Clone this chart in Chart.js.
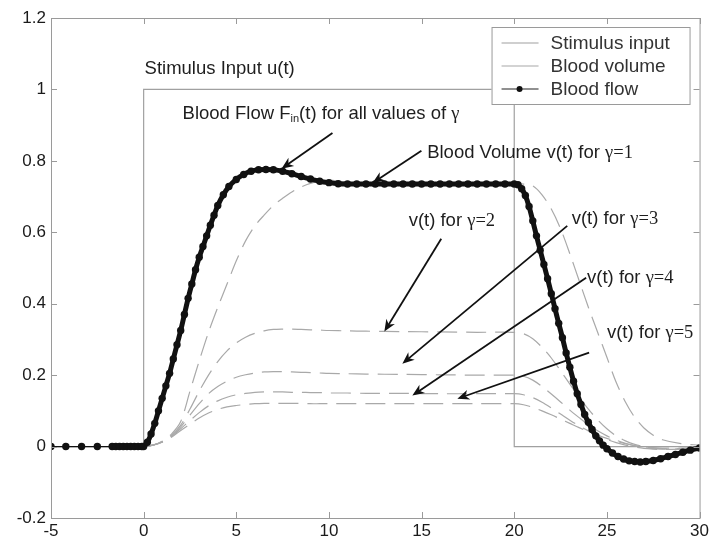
<!DOCTYPE html>
<html>
<head>
<meta charset="utf-8">
<script src="https://cdn.jsdelivr.net/npm/chart.js@4.4.0/dist/chart.umd.min.js"></script>
<style>
  html, body { margin: 0; padding: 0; background: #fff; }
  #wrap { width: 712px; height: 543px; }
</style>
</head>
<body>
<div id="wrap"><canvas id="chart" width="712" height="543"></canvas></div>
<script>
// axis ticks
const xTicks = [-5, 0, 5, 10, 15, 20, 25, 30];
const yTicks = [-0.2, 0, 0.2, 0.4, 0.6, 0.8, 1, 1.2];
const legendLabels = ['Stimulus input', 'Blood volume', 'Blood flow'];

// stimulus u(t)
const stimT = [-5, 0, 0, 20, 20, 30];
const stimU = [0, 0, 1, 1, 0, 0];

// blood flow Fin(t)
const flowT = [
  -5, -4.2, -3.35, -2.5, -1.7, -1.5, -1.3, -1.1, -0.9, -0.7, -0.5, -0.3, -0.1, 0,
  0.2, 0.4, 0.6, 0.8, 1.0, 1.2, 1.4, 1.6, 1.8, 2.0, 2.2, 2.4, 2.6, 2.8, 3.0,
  3.2, 3.4, 3.6, 3.8, 4.0, 4.3, 4.6, 5.0, 5.4, 5.8, 6.2, 6.6, 7.0, 7.5, 8.0,
  8.5, 9.0, 9.5, 10.0, 10.5, 11.0, 11.5, 12, 12.5, 13, 13.5, 14, 14.5, 15,
  15.5, 16, 16.5, 17, 17.5, 18, 18.5, 19, 19.5, 20,
  20.2, 20.4, 20.6, 20.8, 21.0, 21.2, 21.4, 21.6, 21.8, 22.0, 22.2, 22.4,
  22.6, 22.8, 23.0, 23.2, 23.4, 23.6, 23.8, 24.0, 24.2, 24.4, 24.6, 24.8,
  25.0, 25.3, 25.6, 25.9, 26.2, 26.5, 26.8, 27.1, 27.5, 27.9, 28.3, 28.7,
  29.1, 29.5, 30.0
];
const flowY = [
  0, 0, 0, 0, 0, 0, 0, 0, 0, 0, 0, 0, 0, 0,
  0.012, 0.035, 0.065, 0.1, 0.135, 0.17, 0.205, 0.245, 0.285, 0.325, 0.37, 0.415, 0.455, 0.495, 0.53,
  0.56, 0.59, 0.62, 0.648, 0.675, 0.705, 0.728, 0.748, 0.762, 0.771, 0.775, 0.776, 0.775, 0.771, 0.764,
  0.756, 0.749, 0.743, 0.739, 0.736, 0.735, 0.735, 0.735, 0.735, 0.735, 0.735, 0.735, 0.735, 0.735,
  0.735, 0.735, 0.735, 0.735, 0.735, 0.735, 0.735, 0.735, 0.735, 0.735,
  0.733, 0.722, 0.703, 0.672, 0.632, 0.59, 0.55, 0.51, 0.47, 0.428, 0.386, 0.345,
  0.305, 0.262, 0.222, 0.183, 0.148, 0.118, 0.09, 0.068, 0.048, 0.03, 0.016, 0.004,
  -0.006, -0.018, -0.028, -0.035, -0.04, -0.042, -0.043, -0.042, -0.039, -0.034, -0.028, -0.022,
  -0.016, -0.01, -0.004
];

// blood volume v(t) for gamma = 1..5
const volT = [
  0, 0.5, 1, 1.5, 2, 2.5, 3, 3.5, 4, 4.5,
  5, 5.5, 6, 6.5, 7, 7.5, 8, 8.5, 9, 9.5,
  10, 11, 12, 14, 16, 18, 20,
  20.5, 21, 21.5, 22, 22.5, 23, 23.5, 24, 24.5, 25,
  25.5, 26, 26.5, 27, 27.5, 28, 29, 30
];
const vol1 = [
  0, 0.004, 0.015, 0.035, 0.07, 0.155, 0.24, 0.32, 0.39, 0.455,
  0.52, 0.576, 0.618, 0.648, 0.675, 0.695, 0.713, 0.727, 0.737, 0.743,
  0.746, 0.74, 0.736, 0.735, 0.735, 0.735, 0.735,
  0.735, 0.73, 0.705, 0.665, 0.61, 0.54, 0.465, 0.39, 0.32, 0.25,
  0.18, 0.125, 0.082, 0.052, 0.032, 0.019, 0.008, 0.004
];
const vol2 = [
  0, 0.004, 0.014, 0.032, 0.06, 0.105, 0.155, 0.2, 0.238, 0.268,
  0.29, 0.306, 0.317, 0.324, 0.328, 0.329, 0.329, 0.328, 0.327, 0.326,
  0.325, 0.324, 0.323, 0.322, 0.321, 0.32, 0.32,
  0.316, 0.302, 0.278, 0.248, 0.212, 0.175, 0.138, 0.105, 0.075, 0.05,
  0.03, 0.016, 0.006, 0.0, -0.003, -0.004, -0.004, -0.003
];
const vol3 = [
  0, 0.004, 0.013, 0.03, 0.055, 0.088, 0.12, 0.148, 0.168, 0.183,
  0.194, 0.201, 0.206, 0.209, 0.21, 0.21, 0.209, 0.208, 0.207, 0.206,
  0.205, 0.204, 0.203, 0.202, 0.201, 0.2, 0.2,
  0.197, 0.186, 0.168, 0.147, 0.125, 0.102, 0.081, 0.061, 0.044, 0.03,
  0.018, 0.009, 0.002, -0.003, -0.006, -0.007, -0.007, -0.005
];
const vol4 = [
  0, 0.004, 0.013, 0.028, 0.05, 0.073, 0.095, 0.114, 0.128, 0.138,
  0.145, 0.149, 0.152, 0.153, 0.153, 0.153, 0.152, 0.152, 0.151, 0.151,
  0.15, 0.15, 0.149, 0.149, 0.148, 0.148, 0.148,
  0.145, 0.137, 0.124, 0.108, 0.091, 0.074, 0.058, 0.044, 0.031, 0.02,
  0.011, 0.004, -0.001, -0.005, -0.007, -0.008, -0.007, -0.006
];
const vol5 = [
  0, 0.004, 0.012, 0.026, 0.045, 0.063, 0.08, 0.094, 0.104, 0.111,
  0.115, 0.118, 0.12, 0.121, 0.121, 0.121, 0.121, 0.121, 0.12, 0.12,
  0.12, 0.12, 0.12, 0.12, 0.12, 0.12, 0.12,
  0.117, 0.11, 0.1, 0.089, 0.077, 0.065, 0.053, 0.042, 0.032, 0.023,
  0.015, 0.008, 0.003, -0.001, -0.004, -0.006, -0.006, -0.005
];

const SANS = '"Liberation Sans", Arial, sans-serif';
const SERIF = '"Liberation Serif", "Times New Roman", serif';
const FRAME = '#9a9a9a';

// text labels placed in data units (left, baseline)
const notes = [
  { at: [0.05, 1.043], parts: [{ t: 'Stimulus Input u(t)' }] },
  { at: [2.1, 0.917], parts: [{ t: 'Blood Flow F' }, { t: 'in', size: 11, dy: 3 }, { t: '(t) for all values of ' }, { t: '\u03b3', serif: true }] },
  { at: [15.3, 0.808], parts: [{ t: 'Blood Volume v(t) for ' }, { t: '\u03b3=1', serif: true }] },
  { at: [14.3, 0.618], parts: [{ t: 'v(t) for ' }, { t: '\u03b3=2', serif: true }] },
  { at: [23.1, 0.624], parts: [{ t: 'v(t) for ' }, { t: '\u03b3=3', serif: true }] },
  { at: [23.93, 0.459], parts: [{ t: 'v(t) for ' }, { t: '\u03b3=4', serif: true }] },
  { at: [25.0, 0.305], parts: [{ t: 'v(t) for ' }, { t: '\u03b3=5', serif: true }] }
];
// arrows: [fromT, fromY, tipT, tipY]
const arrows = [
  [10.19, 0.878, 7.44, 0.778],
  [14.99, 0.828, 12.35, 0.738],
  [16.06, 0.582, 12.99, 0.322],
  [22.86, 0.618, 13.96, 0.232],
  [23.88, 0.473, 14.5, 0.143],
  [24.04, 0.263, 16.93, 0.134]
];

function pts(ts, ys) {
  return ts.map((t, i) => ({ x: t, y: ys[i] }));
}

function drawParts(ctx, parts, x, y) {
  let cx = x;
  parts.forEach(p => {
    ctx.font = (p.size || 18.5) + 'px ' + (p.serif ? SERIF : SANS);
    ctx.fillText(p.t, cx, y + (p.dy || 0));
    cx += ctx.measureText(p.t).width;
  });
}

function drawArrow(ctx, x1, y1, x2, y2) {
  const a = Math.atan2(y2 - y1, x2 - x1);
  const len = 12, half = 5;
  ctx.beginPath();
  ctx.moveTo(x1, y1);
  ctx.lineTo(x2 - Math.cos(a) * 6, y2 - Math.sin(a) * 6);
  ctx.stroke();
  ctx.save();
  ctx.translate(x2, y2);
  ctx.rotate(a);
  ctx.beginPath();
  ctx.moveTo(0, 0);
  ctx.lineTo(-len, -half);
  ctx.lineTo(-len * 0.7, 0);
  ctx.lineTo(-len, half);
  ctx.closePath();
  ctx.fill();
  ctx.restore();
}

const decorPlugin = {
  id: 'decor',
  afterDraw(chart) {
    const ctx = chart.ctx;
    const a = chart.chartArea;
    const sx = chart.scales.x, sy = chart.scales.y;
    ctx.save();

    // box and inward ticks
    ctx.strokeStyle = FRAME;
    ctx.lineWidth = 1;
    ctx.strokeRect(a.left + 0.5, a.top + 0.5, a.right - a.left, a.bottom - a.top);
    ctx.beginPath();
    xTicks.forEach(v => {
      const px = Math.round(sx.getPixelForValue(v)) + 0.5;
      ctx.moveTo(px, a.bottom); ctx.lineTo(px, a.bottom - 6);
      ctx.moveTo(px, a.top); ctx.lineTo(px, a.top + 6);
    });
    yTicks.forEach(v => {
      const py = Math.round(sy.getPixelForValue(v)) + 0.5;
      ctx.moveTo(a.left, py); ctx.lineTo(a.left + 6, py);
      ctx.moveTo(a.right, py); ctx.lineTo(a.right - 6, py);
    });
    ctx.stroke();

    // annotations
    ctx.fillStyle = '#1e1e1e';
    ctx.textBaseline = 'alphabetic';
    ctx.textAlign = 'left';
    notes.forEach(n => {
      drawParts(ctx, n.parts, sx.getPixelForValue(n.at[0]), sy.getPixelForValue(n.at[1]));
    });

    ctx.strokeStyle = '#111';
    ctx.fillStyle = '#111';
    ctx.lineWidth = 1.8;
    arrows.forEach(r => {
      drawArrow(ctx, sx.getPixelForValue(r[0]), sy.getPixelForValue(r[1]),
        sx.getPixelForValue(r[2]), sy.getPixelForValue(r[3]));
    });

    // legend box in the upper right corner
    const lx = a.right - 208, ly = a.top + 9, lw = 198, lh = 77;
    ctx.fillStyle = '#fff';
    ctx.fillRect(lx, ly, lw, lh);
    ctx.strokeStyle = FRAME;
    ctx.lineWidth = 1;
    ctx.strokeRect(lx + 0.5, ly + 0.5, lw, lh);
    const styles = [
      { c: '#a0a0a0', dot: false },
      { c: '#a8a8a8', dot: false },
      { c: '#222', dot: true }
    ];
    legendLabels.forEach((lab, i) => {
      const yy = ly + 16 + i * 23;
      ctx.strokeStyle = styles[i].c;
      ctx.lineWidth = 1.2;
      ctx.beginPath();
      ctx.moveTo(lx + 10, yy); ctx.lineTo(lx + 47, yy);
      ctx.stroke();
      if (styles[i].dot) {
        ctx.fillStyle = '#111';
        ctx.beginPath();
        ctx.arc(lx + 28, yy, 3, 0, Math.PI * 2);
        ctx.fill();
      }
      ctx.fillStyle = '#333';
      ctx.font = '19px ' + SANS;
      ctx.fillText(lab, lx + 59, yy + 6);
    });
    ctx.restore();
  }
};

const volColor = '#a9a9a9';
const volStyle = {
  borderColor: volColor, borderWidth: 1.2, borderDash: [20, 9],
  pointRadius: 0, tension: 0.3, fill: false
};

new Chart(document.getElementById('chart'), {
  type: 'line',
  data: {
    datasets: [
      {
        label: 'Blood flow', data: pts(flowT, flowY), order: 0,
        borderColor: '#111', borderWidth: 5, pointRadius: 3.7, pointHoverRadius: 3.7,
        pointBackgroundColor: '#111', pointBorderWidth: 0, tension: 0.2,
        segment: { borderWidth: c => (c.p0.parsed.x < -1.8 ? 1.2 : 5) }
      },
      { label: 'v1', data: pts(volT, vol1), order: 1, ...volStyle },
      { label: 'v2', data: pts(volT, vol2), order: 2, ...volStyle },
      { label: 'v3', data: pts(volT, vol3), order: 3, ...volStyle },
      { label: 'v4', data: pts(volT, vol4), order: 4, ...volStyle },
      { label: 'v5', data: pts(volT, vol5), order: 5, ...volStyle },
      {
        label: 'Stimulus input', data: pts(stimT, stimU), order: 6,
        borderColor: '#a0a0a0', borderWidth: 1.2, pointRadius: 0, tension: 0
      }
    ]
  },
  options: {
    responsive: false,
    animation: false,
    devicePixelRatio: 1,
    layout: { padding: { top: 18, right: 11, left: 0, bottom: 0 } },
    plugins: { legend: { display: false }, tooltip: { enabled: false } },
    scales: {
      x: {
        type: 'linear', min: -5, max: 30,
        afterBuildTicks: s => { s.ticks = xTicks.map(v => ({ value: v })); },
        afterFit: s => { s.height = 25; },
        grid: { display: false, drawTicks: false },
        border: { display: false },
        ticks: { padding: 3, color: '#1a1a1a', font: { family: SANS, size: 17 } }
      },
      y: {
        type: 'linear', min: -0.2, max: 1.2,
        afterBuildTicks: s => { s.ticks = yTicks.map(v => ({ value: v })); },
        afterFit: s => { s.width = 51; },
        grid: { display: false, drawTicks: false },
        border: { display: false },
        ticks: {
          padding: 5, color: '#1a1a1a', font: { family: SANS, size: 17 },
          callback: v => String(Math.round(v * 10) / 10)
        }
      }
    }
  },
  plugins: [decorPlugin]
});
</script>
</body>
</html>
